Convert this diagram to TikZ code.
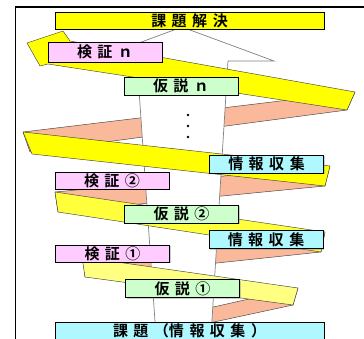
\documentclass[tikz,border=0pt]{standalone}
\usepackage{fontspec}
\newfontfamily\jpb{Noto Sans CJK JP Bold}
\usetikzlibrary{shadows}
\definecolor{ylw}{RGB}{255,255,0}
\definecolor{ylwb}{RGB}{255,255,60}
\definecolor{ylwc}{RGB}{255,255,130}
\definecolor{slm}{RGB}{250,185,155}
\definecolor{pnk}{RGB}{255,204,255}
\definecolor{grn}{RGB}{204,255,204}
\definecolor{cyn}{RGB}{175,248,255}
\newcommand{\gq}{\hspace{5.5pt}}
\begin{document}
\begin{tikzpicture}[x=1pt,y=-1pt,
  box/.style={draw=black,line width=0.8pt,minimum width=114pt,minimum height=18pt,inner sep=0pt,
    font=\jpb\fontsize{15}{15}\selectfont,
    drop shadow={shadow xshift=1.2pt,shadow yshift=-1.2pt,fill=black!40}},
  band/.style={draw=black!75,line width=0.45pt,line join=round},
  shaft/.style={draw=black!50,fill=white,line width=0.7pt,line join=miter},
  frame/.style={draw=black,line width=1.4pt}
]
\useasboundingbox (0,0) rectangle (364,339);
% frame
\draw[frame] (15.5,339) -- (15.5,7) -- (364,7);
% back (salmon) parts of the ribbon
\fill[slm,band] (355,92) -- (347,110) -- (30,152) -- (23,132) -- cycle;
\fill[slm,band] (330,166) -- (325,186) -- (58,212) -- (55,192) -- cycle;
\fill[slm,band] (325,232) -- (321,252) -- (85,277) -- (83,258) -- cycle;
\fill[slm,band] (298,288) -- (293,305) -- (200,325) -- (200,310) -- cycle;
% the big upward arrow
\draw[shaft] (182,27) -- (274,61) -- (228,61) -- (211,336) -- (156,336) -- (137,61) -- (90,61) -- cycle;
\foreach \yy in {115,126,137} \fill (188,\yy) circle (1.3);
% front (yellow) parts of the ribbon
\fill[ylw,band] (27,43) -- (63,31) -- (70,41) -- (355,92) -- (347,110) -- (48,64) -- (40,66) -- cycle;
\fill[ylw,band] (23,132) -- (330,166) -- (325,186) -- (32,154) -- cycle;
\fill[ylwb,band] (55,192) -- (325,232) -- (321,252) -- (58,212) -- cycle;
\fill[ylwc,band] (82,257) -- (298,288) -- (293,305) -- (85,277) -- cycle;
% boxes
\node[box,fill=ylw,minimum width=269pt,minimum height=17pt] (kaiketsu) at (189.5,20.5) {課\gq 題\gq 解\gq 決};
\node[box,fill=pnk,minimum height=20pt] (kenN) at (105,52) {検\gq 証\gq ｎ};
\node[box,fill=grn] (kasN) at (181,86) {仮\gq 説\gq ｎ};
\node[box,fill=cyn] (joho1) at (266.5,164) {情\gq 報\gq 収\gq 集};
\node[box,fill=pnk,minimum height=17pt] (ken2) at (112,180.5) {検\gq 証\gq ②};
\node[box,fill=grn] (kas2) at (181.5,214) {仮\gq 説\gq ②};
\node[box,fill=cyn] (joho2) at (266,239.5) {情\gq 報\gq 収\gq 集};
\node[box,fill=pnk,minimum height=17pt] (ken1) at (112.5,253.5) {検\gq 証\gq ①};
\node[box,fill=grn] (kas1) at (182.5,288.5) {仮\gq 説\gq ①};
\node[box,fill=cyn,minimum width=269pt,minimum height=17pt] (kadai) at (189.5,330.5) {課\gq 題\gq （情\gq 報\gq 収\gq 集\gq ）};
\end{tikzpicture}
\end{document}
